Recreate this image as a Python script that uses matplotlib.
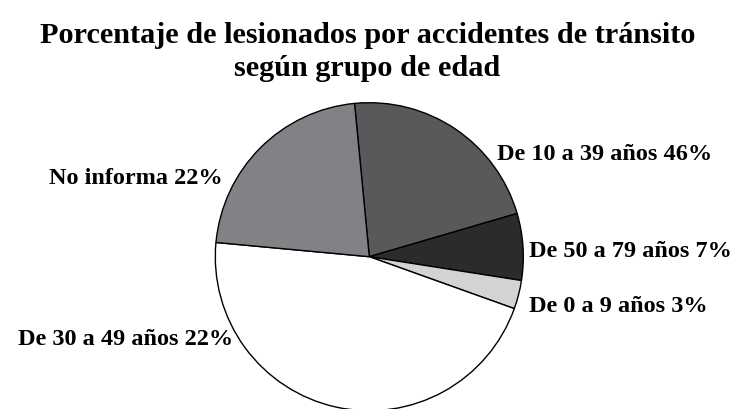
import matplotlib.pyplot as plt

# slices drawn clockwise from the top
grupos = ['De 10 a 39 años 46%', 'De 50 a 79 años 7%', 'De 0 a 9 años 3%',
          'De 30 a 49 años 22%', 'No informa 22%']
valores = [22, 7, 3, 46, 22]
colores = ['#58595b', '#2b2b2b', '#d1d3d4', '#ffffff', '#808285']

# label anchors (pie radius = 1)
pos_x = [0.829, 1.037, 1.037, -0.885, -0.951]
pos_y = [0.634, 0.005, -0.353, -0.567, 0.479]
alin = ['left', 'left', 'left', 'right', 'right']

plt.rcParams['font.family'] = ['Liberation Serif', 'DejaVu Serif']

fig = plt.figure(figsize=(7.35, 4.1), dpi=100)
ax = fig.add_axes([0, 0, 1, 1])

ax.pie(valores, colors=colores, startangle=95.5, counterclock=False,
       radius=1, center=(0, 0),
       wedgeprops={'edgecolor': 'black', 'linewidth': 1.0})

for g, x, y, ha in zip(grupos, pos_x, pos_y, alin):
    ax.text(x, y, g, ha=ha, va='baseline', fontsize=17.5, fontweight='bold')

ax.set_xlim(-369.3 / 154, (735 - 369.3) / 154)
ax.set_ylim((257.7 - 410) / 154, 257.7 / 154)
ax.set_aspect('auto')
ax.axis('off')

fig.text(0.5, 1 - 43 / 410, 'Porcentaje de lesionados por accidentes de tránsito',
         ha='center', va='baseline', fontsize=21.8, fontweight='bold')
fig.text(0.5, 1 - 76 / 410, 'según grupo de edad',
         ha='center', va='baseline', fontsize=21.8, fontweight='bold')

fig.savefig('out.png', dpi=100)
